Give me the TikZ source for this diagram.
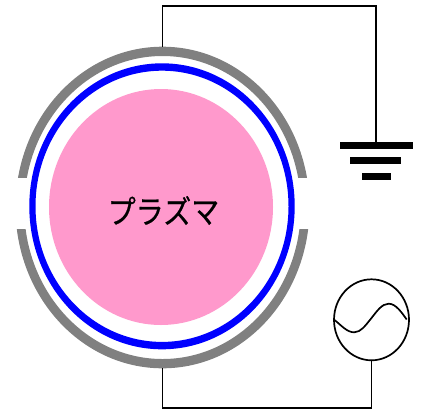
\documentclass[tikz,border=0pt]{standalone}
\usepackage{fontspec}
\newfontfamily\cjk[FakeBold=0.6]{Noto Sans CJK JP}
\usetikzlibrary{shapes.geometric}
\definecolor{plasma}{RGB}{255,153,204}
\definecolor{shell}{RGB}{128,128,128}
\tikzset{
  x=1pt,y=-1pt,
  wire/.style={draw=black,line width=1.7pt,line join=miter},
  bar/.style={fill=black,draw=none,inner sep=0pt,minimum height=7pt},
  shellarc/.style={fill=shell,draw=none,even odd rule},
  ring/.style={fill=blue,draw=none,even odd rule},
}
\begin{document}
\begin{tikzpicture}
\useasboundingbox (0,0) rectangle (422,413);
\node[ellipse,fill=plasma,draw=none,inner sep=0pt,minimum width=224pt,minimum height=236pt] (plasmaball) at (161,207) {};
\node[font=\cjk\fontsize{28}{32}\selectfont,inner sep=0pt] (label) at (163.5,210.5) {\scalebox{1}[1.15]{プラズマ}};
\fill[ring] (162,206.3) ellipse [x radius=132.7,y radius=143]
            (162,206.3) ellipse [x radius=126.5,y radius=135.6];
\begin{scope}
  \clip (0,0) rectangle (422,177.7);
  \fill[shellarc] (162.5,207.5) ellipse [x radius=147,y radius=160.8]
                  (162.5,207.5) ellipse [x radius=138.3,y radius=151.5];
\end{scope}
\begin{scope}
  \clip (0,229) rectangle (422,413);
  \fill[shellarc] (162.5,207.5) ellipse [x radius=147,y radius=160.8]
                  (162.5,207.5) ellipse [x radius=138.3,y radius=151.5];
\end{scope}
\coordinate (shelltop) at (162.5,47);
\coordinate (shellbottom) at (162.5,368);
\coordinate (cornerA) at (162.5,6);
\coordinate (cornerB) at (376.3,6);
\coordinate (cornerC) at (371.5,407.7);
\coordinate (cornerD) at (162.5,407.7);
\node[bar,minimum width=73pt] (gndA) at (376.5,145.2) {};
\node[bar,minimum width=50.4pt] (gndB) at (375.5,160) {};
\node[bar,minimum width=28.7pt] (gndC) at (376.3,176.5) {};
\node[ellipse,draw=black,line width=1.7pt,inner sep=0pt,minimum width=75pt,minimum height=81pt] (source) at (371.5,319.8) {};
\draw[wire] (shelltop) -- (cornerA) -- (cornerB) -- (gndA.north-|cornerB);
\draw[wire] (source.south) -- (cornerC) -- (cornerD) -- (shellbottom);
\draw[draw=black,line width=1.7pt] (334.5,320) .. controls (341,325) and (347,332.5) .. (354.3,332.3)
  .. controls (361,332) and (365,326) .. (371.5,318)
  .. controls (377,311) and (382,303.7) .. (388.7,303.7)
  .. controls (396,303.7) and (402,313) .. (406.7,319.5);
\end{tikzpicture}
\end{document}
